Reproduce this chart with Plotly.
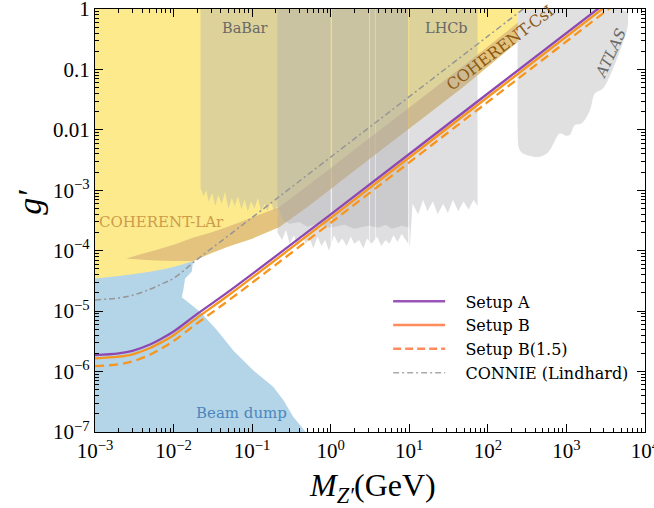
import math
import plotly.graph_objects as go

# ---------------- data ----------------
# Sensitivity curves
setup_x = [1e-3, 2e-3, 3e-3, 5e-3, 7e-3, 1e-2, 2e-2, 5e-2, 1, 100, 5000]
setupA_y = [1.87e-6, 2.0e-6, 2.2e-6, 2.8e-6, 3.5e-6, 4.6e-6, 9.0e-6, 2.1e-5, 4.0e-4, 4.0e-2, 2.0]
setupB_y = [1.65e-6, 1.76e-6, 1.93e-6, 2.45e-6, 3.05e-6, 4.0e-6, 7.8e-6, 1.83e-5, 3.5e-4, 3.5e-2, 1.75]
setupB15_y = [1.23e-6, 1.32e-6, 1.47e-6, 1.9e-6, 2.4e-6, 3.2e-6, 6.3e-6, 1.5e-5, 2.9e-4, 2.9e-2, 1.45]

connie_x = [1e-3, 2e-3, 3e-3, 5e-3, 7e-3, 1e-2, 2e-2, 5e-2, 1, 100, 1000]
connie_y = [1.53e-5, 1.65e-5, 1.83e-5, 2.3e-5, 2.8e-5, 3.5e-5, 7.2e-5, 1.78e-4, 3.55e-3, 0.355, 3.55]

# COHERENT-LAr lower boundary (yellow region above it)
lar_x = [1e-3, 2e-3, 3e-3, 5e-3, 8e-3, 0.012, 0.018, 0.03, 0.05, 0.1, 0.22, 0.5, 1, 3, 12, 50, 760]
lar_logy = [-4.46, -4.42, -4.39, -4.35, -4.30, -4.24, -4.17, -4.04, -3.93, -3.80, -3.61,
            -3.28, -2.98, -2.50, -1.90, -1.28, 0.0]

# COHERENT-CsI band: upper and lower edges
csi_up_x = [0.0025, 0.004, 0.006, 0.01, 0.018, 0.03, 0.05, 0.1, 0.22, 0.5, 1, 3, 12, 50, 400]
csi_up_logy = [-4.13, -4.05, -3.99, -3.90, -3.78, -3.70, -3.60, -3.45, -3.28, -2.93, -2.63,
               -2.15, -1.55, -0.93, 0.0]
csi_lo_x = [0.0025, 0.004, 0.006, 0.01, 0.018, 0.03, 0.05, 0.1, 0.22, 0.5, 1, 3, 12, 50, 760]
csi_lo_logy = [-4.13, -4.15, -4.16, -4.17, -4.17, -4.04, -3.93, -3.80, -3.61, -3.28, -2.98,
               -2.50, -1.90, -1.28, 0.0]

# Beam dump region outline
beam_x = [1e-3, 1e-3, 0.0178, 0.0170, 0.0140, 0.0133, 0.0127, 0.0217, 0.0353, 0.0575,
          0.103, 0.185, 0.249, 0.333, 0.48]
beam_logy = [-7.0, -4.40, -4.15, -4.35, -4.46, -4.65, -4.77, -5.01, -5.31, -5.65,
             -5.98, -6.25, -6.47, -6.75, -7.0]

# BaBar excluded region (bottom edge)
babar_x = [0.022, 0.024, 0.026, 0.028, 0.031, 0.034, 0.037, 0.041, 0.045, 0.05, 0.055, 0.06,
           0.066, 0.073, 0.08, 0.088, 0.097, 0.107, 0.118, 0.13, 0.143, 0.157, 0.173, 0.19,
           0.21, 0.25, 0.3, 0.4, 0.5, 0.7, 1.0, 1.5, 2, 3, 4, 5, 6, 8, 10.2]
babar_y = [1.1e-3, 8e-4, 1.0e-3, 6.5e-4, 9e-4, 5.5e-4, 8.5e-4, 6e-4, 9.5e-4, 5e-4, 7.5e-4,
           5.5e-4, 8e-4, 4.8e-4, 7e-4, 4.5e-4, 6.5e-4, 5e-4, 7.5e-4, 4.5e-4, 6e-4, 4.6e-4,
           6.5e-4, 4.5e-4, 5.5e-4, 3.2e-4, 2.8e-4, 3.0e-4, 2.5e-4, 2.8e-4, 2.4e-4, 2.7e-4,
           2.3e-4, 2.6e-4, 2.4e-4, 2.7e-4, 2.3e-4, 2.6e-4, 2.4e-4]

# Dark-photon searches incl. LHCb (bottom edge)
lhcb_x = [0.21, 0.24, 0.27, 0.3, 0.34, 0.38, 0.43, 0.48, 0.54, 0.6, 0.68, 0.76, 0.85, 0.95,
          1.1, 1.25, 1.4, 1.6, 1.8, 2.0, 2.3, 2.6, 2.9, 3.3, 3.9, 4.4, 5.0, 5.6, 6.3, 7.1,
          8.0, 9.0, 10.2, 11, 13, 15, 17, 20, 23, 27, 31, 36, 42, 49, 57, 66, 74]
lhcb_y = [2.0e-4, 1.5e-4, 2.2e-4, 1.3e-4, 1.8e-4, 1.2e-4, 1.9e-4, 1.3e-4, 1.6e-4, 1.1e-4,
          1.7e-4, 1.2e-4, 1.5e-4, 1.0e-4, 1.8e-4, 1.3e-4, 1.6e-4, 1.2e-4, 1.7e-4, 1.3e-4,
          1.5e-4, 1.1e-4, 1.6e-4, 1.3e-4, 1.7e-4, 1.2e-4, 1.5e-4, 1.3e-4, 1.8e-4, 1.4e-4,
          1.9e-4, 1.5e-4, 1.2e-4, 6e-4, 4e-4, 7e-4, 4.5e-4, 6.5e-4, 4e-4, 6e-4, 4.2e-4,
          7e-4, 4.5e-4, 6.5e-4, 4.8e-4, 7e-4, 5.5e-4]

# resonance gaps in the grey exclusions (GeV)
gap_lo = [1.00, 3.07, 3.66, 9.7]
gap_hi = [1.03, 3.13, 3.72, 10.05]

# ATLAS region outline
atlas_x = [241, 241, 246, 262, 300, 380, 460, 540, 615, 700, 824, 1000, 1104, 1280, 1556,
           1990, 2300, 2930, 3930, 5020, 5900, 6100, 5900, 260]
atlas_y = [0.85, 7e-3, 5.2e-3, 4.4e-3, 3.9e-3, 3.6e-3, 3.6e-3, 3.9e-3, 4.6e-3, 6.3e-3,
           8.7e-3, 8.0e-3, 8.2e-3, 1.2e-2, 1.28e-2, 2.1e-2, 4.0e-2, 4.9e-2, 0.104, 0.238,
           0.45, 0.7, 0.9, 0.95]

legend_names = ["Setup A", "Setup B", "Setup B(1.5)", "CONNIE (Lindhard)"]

x_tickvals = [1e-3, 1e-2, 1e-1, 1, 10, 100, 1000, 1e4]
x_ticktext = ["10<sup>−3</sup>", "10<sup>−2</sup>", "10<sup>−1</sup>", "10<sup>0</sup>",
              "10<sup>1</sup>", "10<sup>2</sup>", "10<sup>3</sup>", "10<sup>4</sup>"]
y_tickvals = [1e-7, 1e-6, 1e-5, 1e-4, 1e-3, 1e-2, 1e-1, 1]
y_ticktext = ["10<sup>−7</sup>", "10<sup>−6</sup>", "10<sup>−5</sup>", "10<sup>−4</sup>",
              "10<sup>−3</sup>", "0.01", "0.1", "1"]

# ---------------- helpers ----------------
def p10(vals):
    return [10 ** v for v in vals]


def interp_log(xs, ys, x):
    lx = math.log10(x)
    for i in range(len(xs) - 1):
        a, b = math.log10(xs[i]), math.log10(xs[i + 1])
        if a <= lx <= b:
            t = (lx - a) / (b - a) if b > a else 0
            return 10 ** (math.log10(ys[i]) + t * (math.log10(ys[i + 1]) - math.log10(ys[i])))
    return ys[-1]


def segments(xs, ys, top=1.0):
    """split a region (bottom edge xs, ys; top at 'top') at the resonance gaps"""
    bounds = [xs[0]]
    for lo, hi in zip(gap_lo, gap_hi):
        if xs[0] < lo and hi < xs[-1]:
            bounds += [lo, hi]
    bounds.append(xs[-1])
    segs = []
    for k in range(0, len(bounds), 2):
        a, b = bounds[k], bounds[k + 1]
        px = [a] + [x for x in xs if a < x < b] + [b]
        py = [interp_log(xs, ys, x) for x in px]
        segs.append((px + [b, a, a], py + [top, top, py[0]]))
    return segs


fig = go.Figure()

YELLOW = "rgb(252,234,140)"
BLUE = "rgb(180,212,231)"
GREY = "rgba(170,170,175,0.38)"

# Beam dump
fig.add_trace(go.Scatter(x=beam_x, y=p10(beam_logy), fill="toself", fillcolor=BLUE,
                         mode="none", showlegend=False, hoverinfo="skip"))
# COHERENT-LAr (yellow)
fig.add_trace(go.Scatter(x=lar_x + [lar_x[-1], 1e-3], y=p10(lar_logy) + [2, 2],
                         fill="toself", fillcolor=YELLOW, mode="none",
                         showlegend=False, hoverinfo="skip"))
# COHERENT-CsI band
band_x = csi_up_x + csi_lo_x[::-1]
band_y = p10(csi_up_logy) + p10(csi_lo_logy)[::-1]
fig.add_trace(go.Scatter(x=band_x, y=band_y, fill="toself",
                         fillcolor="rgba(195,140,110,0.42)", mode="none",
                         showlegend=False, hoverinfo="skip"))
# grey exclusions
for xs, ys in [(babar_x, babar_y), (lhcb_x, lhcb_y)]:
    for sx, sy in segments(xs, ys):
        fig.add_trace(go.Scatter(x=sx, y=sy, fill="toself", fillcolor=GREY, mode="none",
                                 showlegend=False, hoverinfo="skip"))
fig.add_trace(go.Scatter(x=atlas_x, y=atlas_y, fill="toself", fillcolor="rgb(224,224,224)",
                         mode="none", showlegend=False, hoverinfo="skip", line_shape="spline"))

# curves
fig.add_trace(go.Scatter(x=connie_x, y=connie_y, mode="lines", line_shape="spline",
                         line=dict(color="rgb(150,150,150)", width=1.5, dash="6px,3px,2px,3px"),
                         showlegend=False))
fig.add_trace(go.Scatter(x=setup_x, y=setupB15_y, mode="lines", line_shape="spline",
                         line=dict(color="rgb(247,150,30)", width=2.3, dash="9px,5px"),
                         showlegend=False))
fig.add_trace(go.Scatter(x=setup_x, y=setupB_y, mode="lines", line_shape="spline",
                         line=dict(color="rgb(247,150,30)", width=2.3), showlegend=False))
fig.add_trace(go.Scatter(x=setup_x, y=setupA_y, mode="lines", line_shape="spline",
                         line=dict(color="rgb(142,72,178)", width=2.3), showlegend=False))

# legend entries
legend_styles = [("rgb(155,85,185)", "solid", 2.5),
                 ("rgb(255,140,90)", "solid", 2.5),
                 ("rgb(255,140,90)", "8px,4px", 2.5),
                 ("rgb(170,170,170)", "6px,3px,2px,3px", 1.5)]
for name, (col, dash, w) in zip(legend_names, legend_styles):
    fig.add_trace(go.Scatter(x=[None], y=[None], mode="lines",
                             name="&nbsp;&nbsp;&nbsp;" + name,
                             line=dict(color=col, dash=dash, width=w)))

SERIF = "Liberation Serif"
LABEL_FONT = "DejaVu Serif"
ann = []
def label(text, lx, ly, color, size, angle=0, italic=False):
    t = f"<i>{text}</i>" if italic else text
    ann.append(dict(text=t, x=lx, y=ly, xref="x", yref="y", showarrow=False,
                    textangle=angle, font=dict(family=LABEL_FONT, size=size, color=color)))

label("BaBar", -1.09, -0.31, "rgb(105,105,105)", 14.5)
label("LHCb", 1.48, -0.31, "rgb(105,105,105)", 14.5)
label("COHERENT-LAr", -2.15, -3.53, "rgb(205,155,75)", 15)
label("COHERENT-CsI", 2.16, -0.63, "rgb(140,90,20)", 16, angle=-37)
label("ATLAS", 3.56, -0.74, "rgb(105,105,105)", 15, angle=-65, italic=True)
label("Beam dump", -1.13, -6.69, "rgb(75,135,190)", 15)

# axis titles
ann.append(dict(text="<i>M</i><sub><i>Z′</i></sub>(GeV)", x=0.505, y=-0.132, xref="paper",
                yref="paper", showarrow=False, xanchor="center", yanchor="middle",
                font=dict(family=SERIF, size=32, color="black")))
ann.append(dict(text="<i>g′</i>", x=-0.118, y=0.542, xref="paper", yref="paper",
                showarrow=False, textangle=-90, xanchor="center", yanchor="middle",
                font=dict(family=SERIF, size=34, color="black")))

minor_vals = lambda lo, hi: [m * 10 ** e for e in range(lo, hi) for m in range(2, 10)]

axis_common = dict(type="log", showline=True, linecolor="black", linewidth=1.3,
                   mirror="ticks", ticks="inside", ticklen=8, tickwidth=1.1,
                   tickcolor="black", showgrid=False, zeroline=False, automargin=False,
                   ticklabeloverflow="allow",
                   tickfont=dict(family=SERIF, size=21, color="black"))

fig.update_layout(
    width=654, height=508,
    margin=dict(l=95, r=9, t=9, b=76),
    paper_bgcolor="white", plot_bgcolor="white",
    xaxis=dict(range=[-3.0005, 4.0005], tickvals=x_tickvals, ticktext=x_ticktext,
               minor=dict(ticks="inside", ticklen=4, tickcolor="black",
                          tickvals=minor_vals(-3, 4)),
               **axis_common),
    yaxis=dict(range=[-7.0005, 0.0005], tickvals=y_tickvals, ticktext=y_ticktext,
               minor=dict(ticks="inside", ticklen=4, tickcolor="black",
                          tickvals=minor_vals(-7, 0)),
               **axis_common),
    legend=dict(x=0.533, y=0.349, xanchor="left", yanchor="top", itemwidth=52,
                bgcolor="rgba(0,0,0,0)", font=dict(family=LABEL_FONT, size=16, color="black"),
                tracegroupgap=0),
    annotations=ann,
)

fig.write_html("out.html", config={"displayModeBar": False},
               post_script="document.body.style.margin='0px';")
